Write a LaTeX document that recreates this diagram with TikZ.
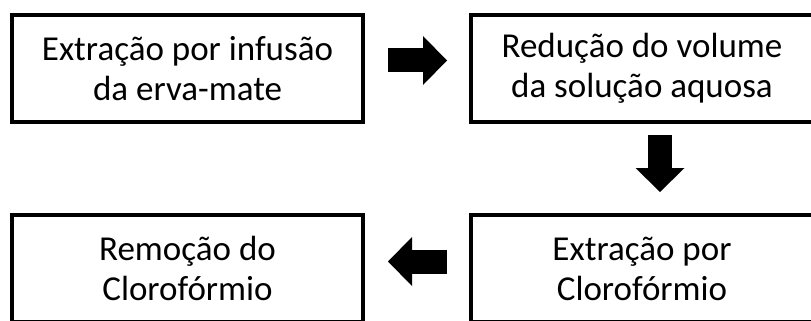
\documentclass[tikz,border=0pt]{standalone}
\usepackage{fontspec}
\setmainfont{Carlito}
\usetikzlibrary{arrows.meta}
\tikzset{
  box/.style={draw=black, line width=4pt, inner sep=0pt, align=center,
    minimum height=107pt, font=\fontsize{35pt}{40pt}\selectfont},
  blockarrow/.style={draw=black, line width=24pt,
    -{Triangle[length=24pt,width=49pt,line width=0pt]}}
}
\begin{document}
\begin{tikzpicture}[x=1pt,y=-1pt]
\useasboundingbox (0,0) rectangle (811,321);
\clip (0,0) rectangle (811,321);
\node[box, minimum width=351pt] (b1) at (187.5,68.5) {Extração por infusão\\da erva-mate};
\node[box, minimum width=342pt] (b2) at (642,68.5) {Redução do volume\\da solução aquosa};
\node[box, minimum width=351pt] (b3) at (187.5,268.5) {Remoção do\\Clorofórmio};
\node[box, minimum width=342pt] (b4) at (642,268.5) {Extração por\\Clorofórmio};
\draw[blockarrow] ([xshift=23pt,yshift=8pt]b1.east) -- ([xshift=-22pt,yshift=8pt]b2.west);
\draw[blockarrow] ([xshift=18pt,yshift=-11pt]b2.south) -- ([xshift=18pt,yshift=21pt]b4.north);
\draw[blockarrow] ([xshift=-22pt,yshift=7pt]b4.west) -- ([xshift=23pt,yshift=7pt]b3.east);
\end{tikzpicture}
\end{document}
